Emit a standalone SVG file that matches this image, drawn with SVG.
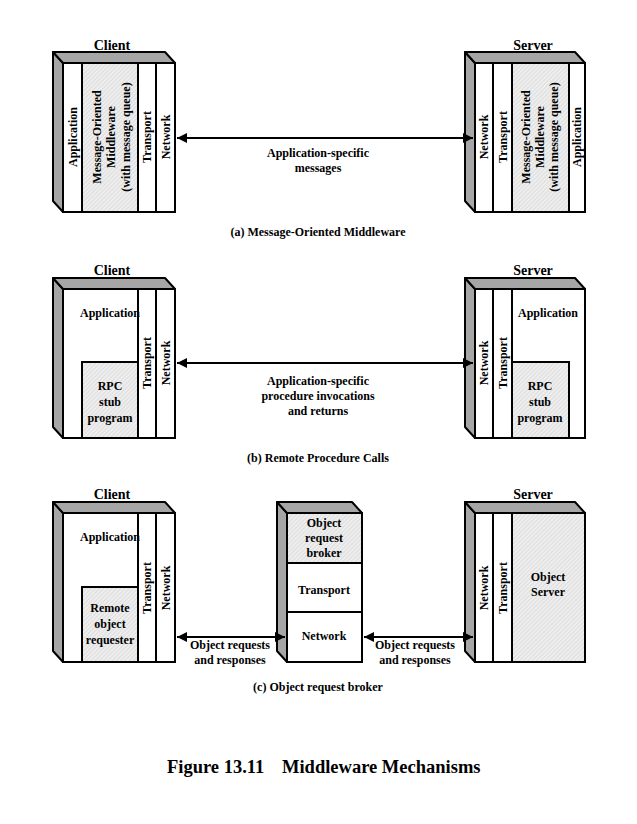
<svg xmlns="http://www.w3.org/2000/svg" width="637" height="824" viewBox="0 0 637 824">
<style>
text{font-family:"Liberation Serif","Times New Roman",serif;font-weight:bold;fill:#000;text-anchor:middle}
.t{font-size:12px}
.h{font-size:14px}
.cap{font-size:12px}
.title{font-size:18.5px;text-anchor:start}
.side{fill:#a6a6a6;stroke:#000;stroke-width:2;stroke-linejoin:round}
.front{fill:#fff;stroke:#000;stroke-width:2}
.hatch{fill:url(#hp);stroke:#000;stroke-width:2}
.div{stroke:#000;stroke-width:2;fill:none}
.conn{stroke:#000;stroke-width:2;fill:none}
</style>
<defs>
<pattern id="hp" width="3" height="3" patternUnits="userSpaceOnUse" patternTransform="rotate(45)">
<rect width="3" height="3" fill="#eeeeee"/>
<line x1="0" y1="0" x2="0" y2="3" stroke="#cccccc" stroke-width="1"/>
</pattern>
<marker id="ah" viewBox="0 0 10 10" refX="10" refY="5" markerWidth="5.5" markerHeight="5" orient="auto-start-reverse" markerUnits="strokeWidth">
<path d="M0,0 L10,5 L0,10 z" fill="#000"/>
</marker>
</defs>

<!-- (a) Client -->
<g id="a-client">
<text class="h" x="112" y="50">Client</text>
<polygon class="side" points="53,52 63,63 63,212 53,201"/>
<polygon class="side" points="53,52 165,52 175,63 63,63"/>
<rect class="front" x="63" y="63" width="112" height="149"/>
<rect class="hatch" x="82" y="63" width="56" height="149"/>
<line class="div" x1="156" y1="63" x2="156" y2="212"/>
<text class="t" transform="translate(77,137) rotate(-90)">Application</text>
<text class="t" transform="translate(100.5,137) rotate(-90)">Message-Oriented</text>
<text class="t" transform="translate(115,137) rotate(-90)">Middleware</text>
<text class="t" transform="translate(129.5,137) rotate(-90)">(with message queue)</text>
<text class="t" transform="translate(151,137) rotate(-90)">Transport</text>
<text class="t" transform="translate(169.5,137) rotate(-90)">Network</text>
</g>

<!-- (a) Server -->
<g id="a-server">
<text class="h" x="533" y="50">Server</text>
<polygon class="side" points="465,52 475,63 475,212 465,201"/>
<polygon class="side" points="465,52 575,52 585,63 475,63"/>
<rect class="front" x="475" y="63" width="110" height="149"/>
<rect class="hatch" x="512" y="63" width="57" height="149"/>
<line class="div" x1="493" y1="63" x2="493" y2="212"/>
<text class="t" transform="translate(488,137) rotate(-90)">Network</text>
<text class="t" transform="translate(506.5,137) rotate(-90)">Transport</text>
<text class="t" transform="translate(530,137) rotate(-90)">Message-Oriented</text>
<text class="t" transform="translate(544,137) rotate(-90)">Middleware</text>
<text class="t" transform="translate(558,137) rotate(-90)">(with message queue)</text>
<text class="t" transform="translate(581,137) rotate(-90)">Application</text>
</g>

<!-- (b) Client -->
<g id="b-client">
<text class="h" x="112" y="275">Client</text>
<polygon class="side" points="53,278 63,289 63,438 53,427"/>
<polygon class="side" points="53,278 165,278 175,289 63,289"/>
<rect class="front" x="63" y="289" width="112" height="149"/>
<rect class="hatch" x="82" y="362" width="56" height="76"/>
<line class="div" x1="138" y1="289" x2="138" y2="438"/>
<line class="div" x1="156" y1="289" x2="156" y2="438"/>
<text class="t" x="110" y="317">Application</text>
<text class="t" x="110" y="390">RPC</text>
<text class="t" x="110" y="406">stub</text>
<text class="t" x="110" y="422">program</text>
<text class="t" transform="translate(151,363) rotate(-90)">Transport</text>
<text class="t" transform="translate(169.5,363) rotate(-90)">Network</text>
</g>

<!-- (b) Server -->
<g id="b-server">
<text class="h" x="533" y="275">Server</text>
<polygon class="side" points="465,278 475,289 475,438 465,427"/>
<polygon class="side" points="465,278 575,278 585,289 475,289"/>
<rect class="front" x="475" y="289" width="110" height="149"/>
<rect class="hatch" x="512" y="362" width="57" height="76"/>
<line class="div" x1="493" y1="289" x2="493" y2="438"/>
<line class="div" x1="512" y1="289" x2="512" y2="438"/>
<text class="t" transform="translate(488,363) rotate(-90)">Network</text>
<text class="t" transform="translate(506.5,363) rotate(-90)">Transport</text>
<text class="t" x="548" y="317">Application</text>
<text class="t" x="540" y="390">RPC</text>
<text class="t" x="540" y="406">stub</text>
<text class="t" x="540" y="422">program</text>
</g>

<!-- (c) Client -->
<g id="c-client">
<text class="h" x="112" y="499">Client</text>
<polygon class="side" points="53,502 63,513 63,662 53,651"/>
<polygon class="side" points="53,502 165,502 175,513 63,513"/>
<rect class="front" x="63" y="513" width="112" height="149"/>
<rect class="hatch" x="82" y="587" width="56" height="75"/>
<line class="div" x1="138" y1="513" x2="138" y2="662"/>
<line class="div" x1="156" y1="513" x2="156" y2="662"/>
<text class="t" x="110" y="541">Application</text>
<text class="t" x="110" y="612">Remote</text>
<text class="t" x="110" y="628">object</text>
<text class="t" x="110" y="644">requester</text>
<text class="t" transform="translate(151,588) rotate(-90)">Transport</text>
<text class="t" transform="translate(169.5,588) rotate(-90)">Network</text>
</g>

<!-- (c) Broker -->
<g id="c-broker">
<polygon class="side" points="277,502 287,513 287,662 277,651"/>
<polygon class="side" points="277,502 352,502 362,513 287,513"/>
<rect class="front" x="287" y="513" width="75" height="149"/>
<rect class="hatch" x="287" y="513" width="75" height="50"/>
<line class="div" x1="287" y1="612" x2="362" y2="612"/>
<text class="t" x="324" y="527">Object</text>
<text class="t" x="324" y="542">request</text>
<text class="t" x="324" y="557">broker</text>
<text class="t" x="324" y="594">Transport</text>
<text class="t" x="324" y="640">Network</text>
</g>

<!-- (c) Server -->
<g id="c-server">
<text class="h" x="533" y="499">Server</text>
<polygon class="side" points="465,502 475,513 475,662 465,651"/>
<polygon class="side" points="465,502 575,502 585,513 475,513"/>
<rect class="front" x="475" y="513" width="110" height="149"/>
<rect class="hatch" x="512" y="513" width="73" height="149"/>
<line class="div" x1="493" y1="513" x2="493" y2="662"/>
<text class="t" transform="translate(488,588) rotate(-90)">Network</text>
<text class="t" transform="translate(506.5,588) rotate(-90)">Transport</text>
<text class="t" x="548" y="581">Object</text>
<text class="t" x="548" y="596">Server</text>
</g>

<!-- connectors -->
<g id="connectors">
<line class="conn" x1="177" y1="138" x2="473" y2="138" marker-start="url(#ah)" marker-end="url(#ah)"/>
<line class="conn" x1="177" y1="363" x2="473" y2="363" marker-start="url(#ah)" marker-end="url(#ah)"/>
<line class="conn" x1="177" y1="637" x2="285" y2="637" marker-start="url(#ah)" marker-end="url(#ah)"/>
<line class="conn" x1="364" y1="637" x2="473" y2="637" marker-start="url(#ah)" marker-end="url(#ah)"/>
</g>

<!-- labels -->
<g id="labels">
<text class="t" x="318" y="157">Application-specific</text>
<text class="t" x="318" y="172">messages</text>
<text class="t" x="318" y="385">Application-specific</text>
<text class="t" x="318" y="400">procedure invocations</text>
<text class="t" x="318" y="415">and returns</text>
<text class="t" x="230" y="649">Object requests</text>
<text class="t" x="230" y="664">and responses</text>
<text class="t" x="415" y="649">Object requests</text>
<text class="t" x="415" y="664">and responses</text>
<text class="cap" x="318" y="236">(a) Message-Oriented Middleware</text>
<text class="cap" x="318" y="462">(b) Remote Procedure Calls</text>
<text class="cap" x="318" y="691">(c) Object request broker</text>
<text class="title" y="773"><tspan x="167">Figure 13.11</tspan><tspan x="282">Middleware Mechanisms</tspan></text>
</g>
</svg>
